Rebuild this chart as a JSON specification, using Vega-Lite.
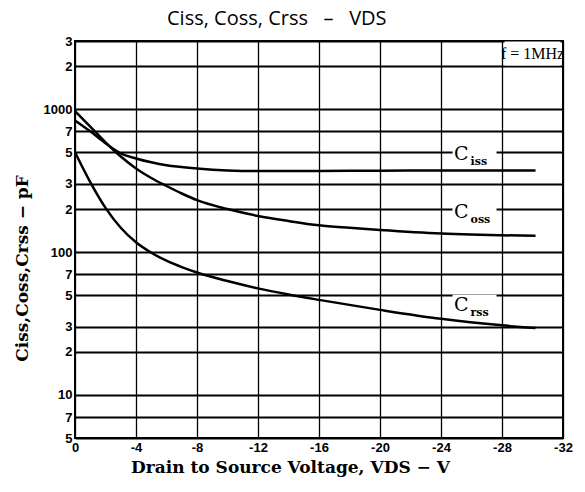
{
  "$schema": "https://vega.github.io/schema/vega-lite/v6.json",
  "autosize": "none",
  "width": 488,
  "height": 397,
  "padding": {"left": 75, "top": 41, "right": 22, "bottom": 54},
  "background": "white",
  "title": {
    "text": "Ciss, Coss, Crss\u00a0\u00a0\u00a0–\u00a0\u00a0\u00a0VDS",
    "anchor": "start",
    "frame": "group",
    "dx": 92,
    "offset": 6,
    "font": "Open Sans",
    "fontSize": 20,
    "fontWeight": "normal",
    "color": "black"
  },
  "config": {
    "view": {"stroke": "black", "strokeWidth": 2},
    "axis": {"labelColor": "black", "titleColor": "black"}
  },
  "datasets": {
    "curves": [
      {"series": "Ciss", "V": 0, "C": 835},
      {"series": "Ciss", "V": -1, "C": 700},
      {"series": "Ciss", "V": -2, "C": 578},
      {"series": "Ciss", "V": -3, "C": 490},
      {"series": "Ciss", "V": -4, "C": 452},
      {"series": "Ciss", "V": -5, "C": 425},
      {"series": "Ciss", "V": -6, "C": 405},
      {"series": "Ciss", "V": -8, "C": 385},
      {"series": "Ciss", "V": -10, "C": 373},
      {"series": "Ciss", "V": -12, "C": 369},
      {"series": "Ciss", "V": -16, "C": 370},
      {"series": "Ciss", "V": -20, "C": 371},
      {"series": "Ciss", "V": -24, "C": 372},
      {"series": "Ciss", "V": -30.2, "C": 372},
      {"series": "Coss", "V": 0, "C": 970},
      {"series": "Coss", "V": -1, "C": 755},
      {"series": "Coss", "V": -2, "C": 586},
      {"series": "Coss", "V": -3, "C": 466},
      {"series": "Coss", "V": -4, "C": 385},
      {"series": "Coss", "V": -5, "C": 330},
      {"series": "Coss", "V": -6, "C": 290},
      {"series": "Coss", "V": -7, "C": 257},
      {"series": "Coss", "V": -8, "C": 231},
      {"series": "Coss", "V": -10, "C": 200},
      {"series": "Coss", "V": -12, "C": 179},
      {"series": "Coss", "V": -14, "C": 165},
      {"series": "Coss", "V": -16, "C": 154},
      {"series": "Coss", "V": -18, "C": 148},
      {"series": "Coss", "V": -20, "C": 143},
      {"series": "Coss", "V": -24, "C": 135},
      {"series": "Coss", "V": -30.2, "C": 130},
      {"series": "Crss", "V": 0, "C": 500},
      {"series": "Crss", "V": -1, "C": 309},
      {"series": "Crss", "V": -2, "C": 204},
      {"series": "Crss", "V": -3, "C": 148},
      {"series": "Crss", "V": -4, "C": 117},
      {"series": "Crss", "V": -5, "C": 99},
      {"series": "Crss", "V": -6, "C": 87},
      {"series": "Crss", "V": -7, "C": 78.5},
      {"series": "Crss", "V": -8, "C": 72},
      {"series": "Crss", "V": -10, "C": 62.7},
      {"series": "Crss", "V": -12, "C": 55.7},
      {"series": "Crss", "V": -14, "C": 50.5},
      {"series": "Crss", "V": -16, "C": 46.3},
      {"series": "Crss", "V": -20, "C": 39.4},
      {"series": "Crss", "V": -24, "C": 34.1},
      {"series": "Crss", "V": -28, "C": 30.7},
      {"series": "Crss", "V": -30.2, "C": 29.4}
    ],
    "labels": [
      {"main": "C", "sub": "iss", "V": -26.2, "C": 469},
      {"main": "C", "sub": "oss", "V": -26.2, "C": 185},
      {"main": "C", "sub": "rss", "V": -26.2, "C": 41.4}
    ],
    "freq": [
      {"text": "f = 1MHz", "V": -30.0, "C": 2450}
    ]
  },
  "encoding": {
    "x": {
      "field": "V",
      "type": "quantitative",
      "scale": {"domain": [-32, 0], "reverse": true, "nice": false, "zero": false},
      "axis": {
        "title": "Drain to Source Voltage, VDS − V",
        "titleFont": "DejaVu Serif",
        "titleFontSize": 17,
        "titleFontWeight": "bold",
        "titleX": 215,
        "titleY": 34,
        "titleBaseline": "alphabetic",
        "values": [0, -4, -8, -12, -16, -20, -24, -28, -32],
        "labelExpr": "datum.value == 0 ? '0' : '-' + abs(datum.value)",
        "labelFont": "Liberation Sans",
        "labelFontWeight": "bold",
        "labelFontSize": 13,
        "labelPadding": 3,
        "labelFlush": false,
        "labelOverlap": false,
        "tickSize": 0,
        "domain": false,
        "grid": true,
        "gridColor": "black",
        "gridWidth": 1.3,
        "gridOpacity": 1
      }
    },
    "y": {
      "field": "C",
      "type": "quantitative",
      "scale": {"type": "log", "domain": [5, 3000], "nice": false},
      "axis": {
        "title": "Ciss,Coss,Crss − pF",
        "titleFont": "DejaVu Serif",
        "titleFontSize": 17,
        "titleFontWeight": "bold",
        "titleAngle": -90,
        "titleX": -53,
        "titleY": 227,
        "titleAlign": "center",
        "titleBaseline": "middle",
        "values": [5, 7, 10, 20, 30, 50, 70, 100, 200, 300, 500, 700, 1000, 2000, 3000],
        "labelExpr": "datum.value == 1000 || datum.value == 100 || datum.value == 10 ? toString(datum.value) : substring(toString(datum.value), 0, 1)",
        "labelFont": "Liberation Sans",
        "labelFontWeight": "bold",
        "labelFontSize": 13,
        "labelPadding": 3,
        "labelOverlap": false,
        "labelFlush": false,
        "tickSize": 0,
        "domain": false,
        "grid": true,
        "gridColor": "black",
        "gridWidth": 1.8,
        "gridOpacity": 1
      }
    }
  },
  "layer": [
    {
      "data": {"name": "labels"},
      "mark": {"type": "point", "shape": "M-1,-0.545L1,-0.545L1,0.545L-1,0.545Z", "size": 1936, "filled": true, "fill": "white", "stroke": null, "opacity": 1}
    },
    {
      "data": {"name": "freq"},
      "mark": {"type": "point", "shape": "M-1,-0.43L1,-0.43L1,0.43L-1,0.43Z", "size": 3136, "filled": true, "fill": "white", "stroke": null, "opacity": 1}
    },
    {
      "data": {"name": "curves"},
      "mark": {"type": "line", "color": "black", "strokeWidth": 2.5, "interpolate": "monotone"},
      "encoding": {"detail": {"field": "series"}}
    },
    {
      "data": {"name": "labels"},
      "mark": {"type": "text", "align": "right", "baseline": "middle", "dx": -6, "dy": -2, "font": "DejaVu Serif", "fontSize": 19, "color": "black"},
      "encoding": {"text": {"field": "main"}}
    },
    {
      "data": {"name": "labels"},
      "mark": {"type": "text", "align": "left", "baseline": "middle", "dx": -4, "dy": 6, "font": "DejaVu Serif", "fontSize": 11, "fontWeight": "bold", "color": "black"},
      "encoding": {"text": {"field": "sub"}}
    },
    {
      "data": {"name": "freq"},
      "mark": {"type": "text", "align": "center", "baseline": "middle", "font": "Liberation Serif", "fontSize": 16, "color": "black"},
      "encoding": {"text": {"field": "text"}}
    }
  ]
}
